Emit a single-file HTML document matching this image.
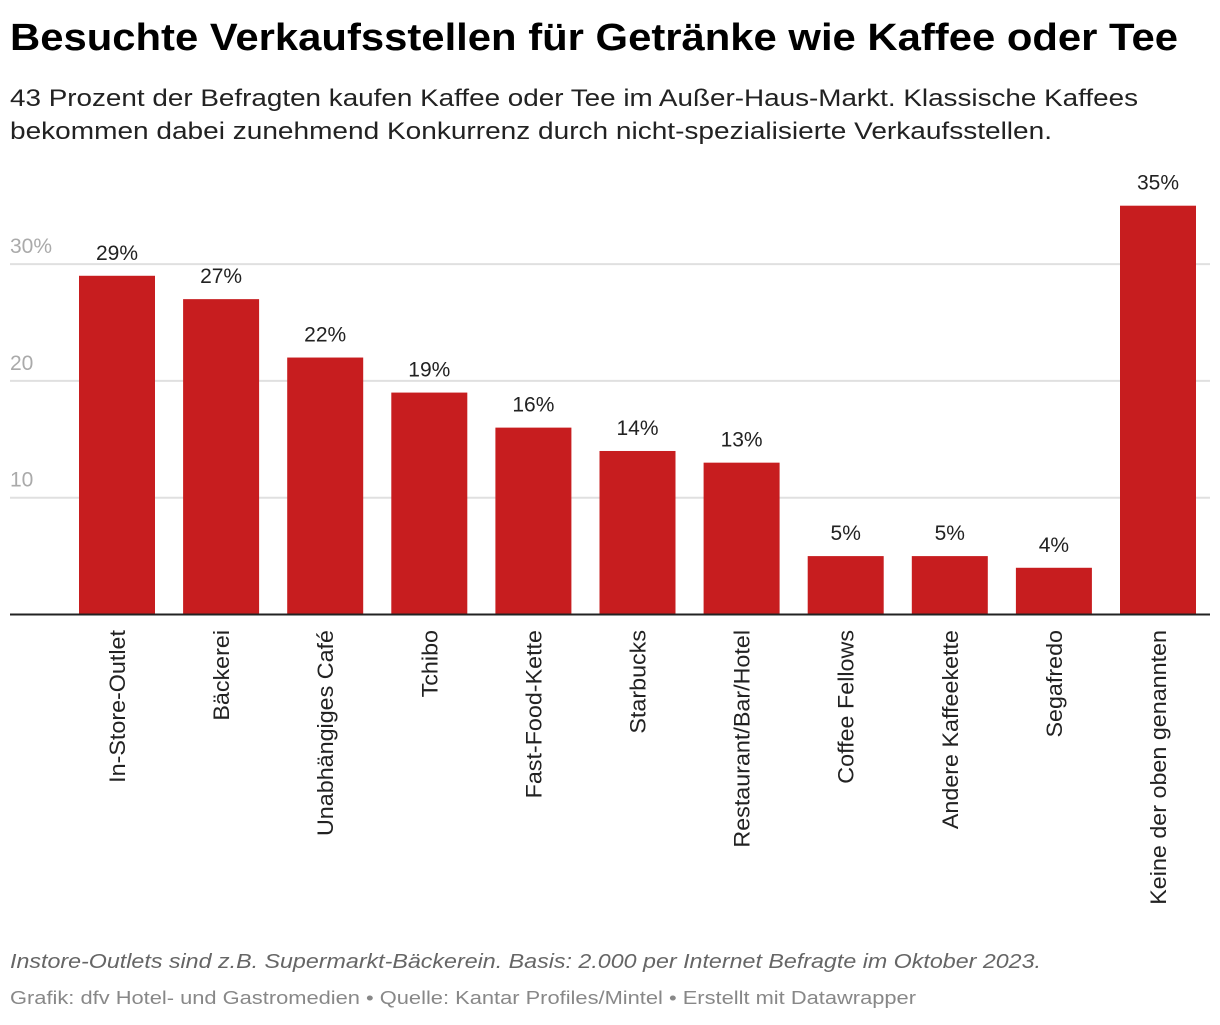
<!DOCTYPE html>
<html><head><meta charset="utf-8"><style>
body{margin:0;background:#fff;}
svg text{font-family:"Liberation Sans",sans-serif;}
</style></head><body>
<svg id="chart" width="1220" height="1020" xmlns="http://www.w3.org/2000/svg">
<text x="10" y="50" font-size="38" font-weight="bold" fill="#000" textLength="1168" lengthAdjust="spacingAndGlyphs">Besuchte Verkaufsstellen für Getränke wie Kaffee oder Tee</text>
<text x="10" y="106" font-size="24" fill="#222" textLength="1128" lengthAdjust="spacingAndGlyphs">43 Prozent der Befragten kaufen Kaffee oder Tee im Außer-Haus-Markt. Klassische Kaffees</text>
<text x="10" y="139" font-size="24" fill="#222" textLength="1042" lengthAdjust="spacingAndGlyphs">bekommen dabei zunehmend Konkurrenz durch nicht-spezialisierte Verkaufsstellen.</text>
<g id="grid"></g>
<g id="bars"></g>
<line x1="10" x2="1210" y1="614.5" y2="614.5" stroke="#222" stroke-width="2"/>
<text x="10" y="968" font-size="20" font-style="italic" fill="#666" textLength="1031" lengthAdjust="spacingAndGlyphs">Instore-Outlets sind z.B. Supermarkt-Bäckerein. Basis: 2.000 per Internet Befragte im Oktober 2023.</text>
<text x="10" y="1004" font-size="18" fill="#888" textLength="906" lengthAdjust="spacingAndGlyphs">Grafik: dfv Hotel- und Gastromedien • Quelle: Kantar Profiles/Mintel • Erstellt mit Datawrapper</text>
</svg>
<script>
const categories = ["In-Store-Outlet","Bäckerei","Unabhängiges Café","Tchibo","Fast-Food-Kette","Starbucks","Restaurant/Bar/Hotel","Coffee Fellows","Andere Kaffeekette","Segafredo","Keine der oben genannten"];
const values = [29,27,22,19,16,14,13,5,5,4,35];
const ticks = [10,20,30];
const tickLabels = ["10","20","30%"];
const NS="http://www.w3.org/2000/svg";
const y0=614.5, k=11.68;
function yScale(v){return y0 - v*k;}
function xCenter(i){return 117 + i*104.1;}
const bw=76;
const grid=document.getElementById('grid'), bars=document.getElementById('bars');
ticks.forEach((t,i)=>{
  const l=document.createElementNS(NS,'line');
  
  
  l.setAttribute('x1',10);l.setAttribute('x2',1210);
  l.setAttribute('y1',yScale(t));l.setAttribute('y2',yScale(t));
  l.setAttribute('stroke','#e0e0e0');l.setAttribute('stroke-width','2');
  grid.appendChild(l);
  const tx=document.createElementNS(NS,'text');
  
  
  tx.setAttribute('x',10);tx.setAttribute('y',yScale(t)-11);
  tx.setAttribute('font-size','21');tx.setAttribute('fill','#aaa');
  tx.textContent=tickLabels[i];
  grid.appendChild(tx);
});
values.forEach((v,i)=>{
  const cx=xCenter(i);
  const r=document.createElementNS(NS,'rect');
  
  
  r.setAttribute('x',cx-bw/2);r.setAttribute('width',bw);
  r.setAttribute('y',yScale(v));r.setAttribute('height',y0-yScale(v));
  r.setAttribute('fill','#c71d1f');
  bars.appendChild(r);
  const t=document.createElementNS(NS,'text');
  
  
  t.setAttribute('x',cx);t.setAttribute('y',yScale(v)-16);
  t.setAttribute('text-anchor','middle');t.setAttribute('font-size','21');t.setAttribute('fill','#222');
  t.textContent=v+'%';
  bars.appendChild(t);
  const c=document.createElementNS(NS,'text');
  
  
  c.setAttribute('transform','translate('+(cx+8)+',630) rotate(-90) scale(1.06,1)');
  c.setAttribute('text-anchor','end');c.setAttribute('font-size','22');c.setAttribute('fill','#222');
  c.textContent=categories[i];
  bars.appendChild(c);
});
</script>
</body></html>
